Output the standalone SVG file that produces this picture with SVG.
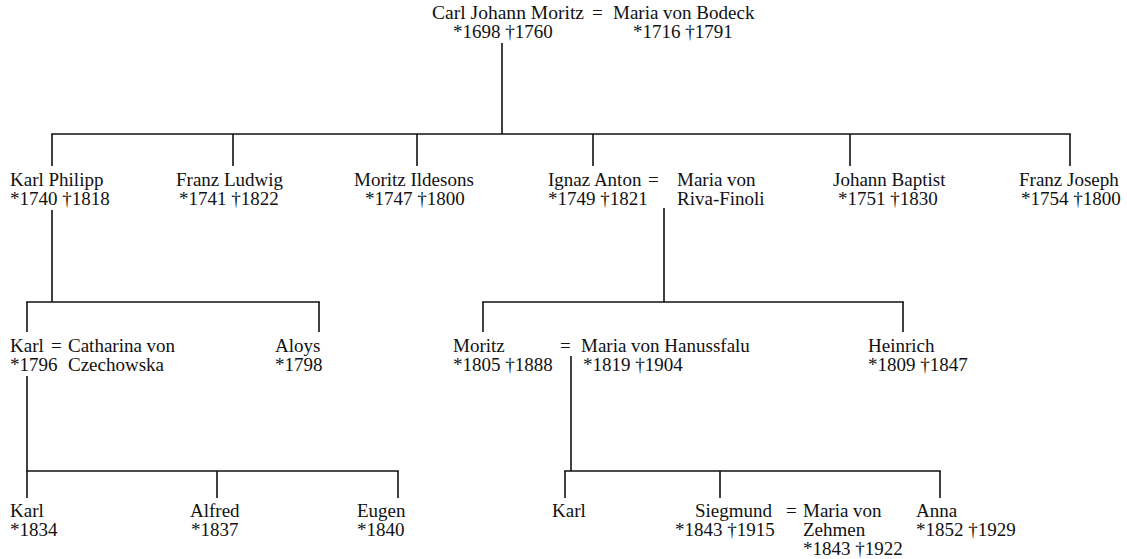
<svg xmlns="http://www.w3.org/2000/svg" width="1127" height="559" viewBox="0 0 1127 559">
<style>
text{font-family:"Liberation Serif","Times New Roman",serif;font-size:19px;fill:#111}
.c line{stroke:#111;stroke-width:1.6}
</style>
<rect width="1127" height="559" fill="#fff"/>
<g class="c" id="connectors">
<line x1="502" y1="43" x2="502" y2="134"/>
<line x1="51.2" y1="134" x2="1070.8" y2="134"/>
<line x1="52" y1="134" x2="52" y2="166"/>
<line x1="233" y1="134" x2="233" y2="166"/>
<line x1="417" y1="134" x2="417" y2="166"/>
<line x1="593" y1="134" x2="593" y2="166"/>
<line x1="850" y1="134" x2="850" y2="166"/>
<line x1="1070" y1="134" x2="1070" y2="166"/>
<line x1="52" y1="210" x2="52" y2="302"/>
<line x1="26.2" y1="302" x2="319.8" y2="302"/>
<line x1="27" y1="302" x2="27" y2="332"/>
<line x1="319" y1="302" x2="319" y2="332"/>
<line x1="664" y1="208" x2="664" y2="302"/>
<line x1="482.2" y1="302" x2="903.8" y2="302"/>
<line x1="483" y1="302" x2="483" y2="332"/>
<line x1="903" y1="302" x2="903" y2="332"/>
<line x1="27" y1="376" x2="27" y2="471"/>
<line x1="26.2" y1="471" x2="398.8" y2="471"/>
<line x1="27" y1="471" x2="27" y2="498"/>
<line x1="217" y1="471" x2="217" y2="498"/>
<line x1="398" y1="471" x2="398" y2="498"/>
<line x1="571" y1="356" x2="571" y2="471"/>
<line x1="564.2" y1="471" x2="940.8" y2="471"/>
<line x1="565" y1="471" x2="565" y2="498"/>
<line x1="720" y1="471" x2="720" y2="498"/>
<line x1="940" y1="471" x2="940" y2="498"/>
</g>
<g id="carl-johann-moritz"><text x="432" y="19" textLength="152" lengthAdjust="spacingAndGlyphs">Carl Johann Moritz</text><text x="453" y="38">*1698 †1760</text></g>
<g id="eq-top"><text x="592" y="19">=</text></g>
<g id="maria-von-bodeck"><text x="613" y="19">Maria von Bodeck</text><text x="633" y="38">*1716 †1791</text></g>
<g id="karl-philipp"><text x="10" y="186">Karl Philipp</text><text x="10" y="205">*1740 †1818</text></g>
<g id="franz-ludwig"><text x="176" y="186">Franz Ludwig</text><text x="179" y="205">*1741 †1822</text></g>
<g id="moritz-ildesons"><text x="354" y="186">Moritz Ildesons</text><text x="365" y="205">*1747 †1800</text></g>
<g id="ignaz-anton"><text x="548" y="186">Ignaz Anton</text><text x="548" y="205">*1749 †1821</text><text x="648" y="186">=</text></g>
<g id="maria-riva-finoli"><text x="677" y="186">Maria von</text><text x="677" y="205">Riva-Finoli</text></g>
<g id="johann-baptist"><text x="833" y="186">Johann Baptist</text><text x="838" y="205">*1751 †1830</text></g>
<g id="franz-joseph"><text x="1019" y="186">Franz Joseph</text><text x="1021" y="205">*1754 †1800</text></g>
<g id="karl-1796"><text x="10" y="352">Karl</text><text x="10" y="371">*1796</text><text x="51" y="352">=</text></g>
<g id="catharina"><text x="68" y="352">Catharina von</text><text x="68" y="371">Czechowska</text></g>
<g id="aloys"><text x="275" y="352">Aloys</text><text x="275" y="371">*1798</text></g>
<g id="moritz-1805"><text x="453" y="352">Moritz</text><text x="453" y="371">*1805 †1888</text><text x="560" y="352">=</text></g>
<g id="maria-hanussfalu"><text x="581" y="352">Maria von Hanussfalu</text><text x="583" y="371">*1819 †1904</text></g>
<g id="heinrich"><text x="868" y="352">Heinrich</text><text x="868" y="371">*1809 †1847</text></g>
<g id="karl-1834"><text x="10" y="517">Karl</text><text x="10" y="536">*1834</text></g>
<g id="alfred"><text x="190" y="517">Alfred</text><text x="191" y="536">*1837</text></g>
<g id="eugen"><text x="357" y="517">Eugen</text><text x="357" y="536">*1840</text></g>
<g id="karl-right"><text x="552" y="517">Karl</text></g>
<g id="siegmund"><text x="695" y="517">Siegmund</text><text x="675" y="536">*1843 †1915</text><text x="786" y="517">=</text></g>
<g id="maria-zehmen"><text x="803" y="517">Maria von</text><text x="803" y="536">Zehmen</text><text x="803" y="555">*1843 †1922</text></g>
<g id="anna"><text x="916" y="517">Anna</text><text x="916" y="536">*1852 †1929</text></g>
</svg>
